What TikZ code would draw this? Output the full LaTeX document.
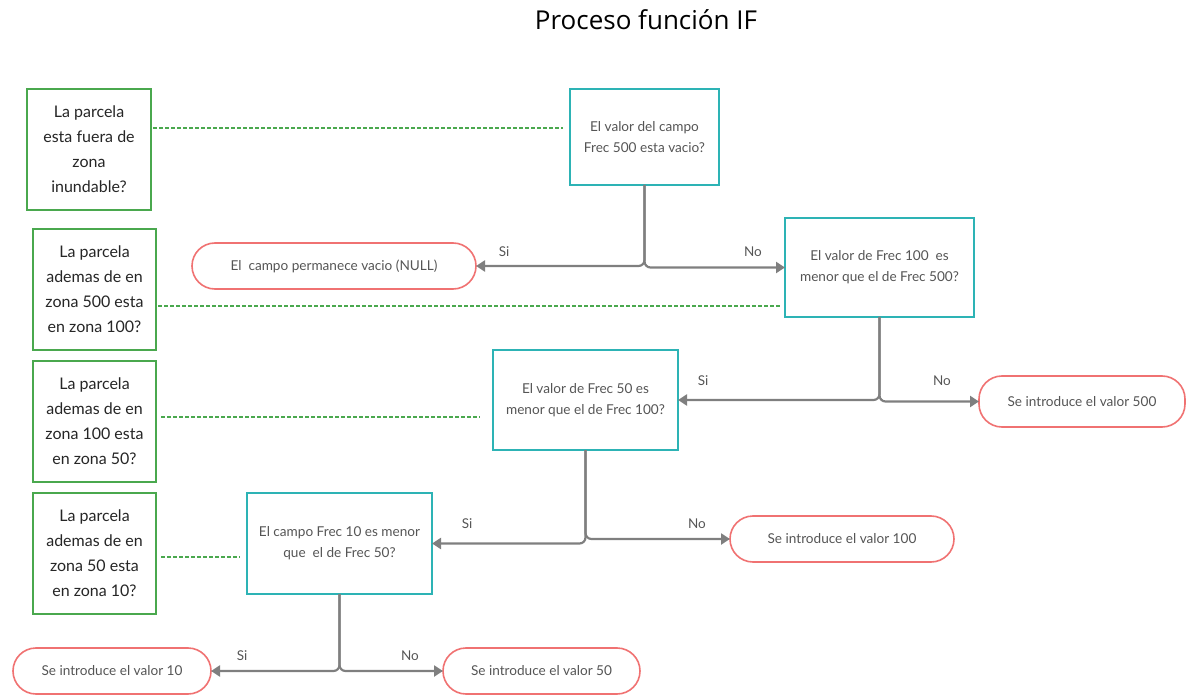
\documentclass[tikz,border=0pt]{standalone}
\usepackage{fontspec}
\setmainfont{Lato}
\newfontfamily\titlefont{Open Sans}
\usetikzlibrary{arrows.meta}
\definecolor{gboxc}{HTML}{4AA84E}
\definecolor{tealc}{HTML}{2DB3B5}
\definecolor{redc}{HTML}{F07272}
\definecolor{connc}{HTML}{7F7F7F}
\definecolor{txtc}{HTML}{555555}
\begin{document}
\begin{tikzpicture}[x=1pt,y=-1pt,
  gbox/.style={draw=gboxc, line width=1.6pt, fill=white, align=center, inner sep=0pt, outer sep=0pt,
    font=\fontsize{16}{25}\selectfont, text=black!85},
  tbox/.style={draw=tealc, line width=1.6pt, fill=white, align=center, inner sep=0pt, outer sep=0pt,
    font=\fontsize{13.6}{21}\selectfont, text=txtc},
  rbox/.style={draw=redc, line width=1.6pt, fill=white, align=center, inner sep=0pt, outer sep=0pt,
    rounded corners=23pt, font=\fontsize{13.6}{16}\selectfont, text=txtc},
  conn/.style={draw=connc, line width=2.2pt, rounded corners=6pt, -{Triangle[length=9pt,width=11pt]}},
  dline/.style={draw=gboxc, line width=1.4pt, dash pattern=on 4pt off 2pt},
  lbl/.style={font=\fontsize{13.5}{16}\selectfont, text=txtc}
]
\useasboundingbox (0,0) rectangle (1187,695);
\node[font=\titlefont\fontsize{26}{30}\selectfont] (title) at (646,20) {Proceso función IF};

% green question boxes
\node[gbox, minimum width=124pt, minimum height=121pt] (g1) at (89,149.5) {La parcela\\esta fuera de\\zona\\inundable?};
\node[gbox, minimum width=123pt, minimum height=121pt] (g2) at (94.5,289.5) {La parcela\\ademas de en\\zona 500 esta\\en zona 100?};
\node[gbox, minimum width=123pt, minimum height=121pt] (g3) at (94.5,421.5) {La parcela\\ademas de en\\zona 100 esta\\en zona 50?};
\node[gbox, minimum width=123pt, minimum height=121pt] (g4) at (94.5,553.5) {La parcela\\ademas de en\\zona 50 esta\\en zona 10?};

% teal decision boxes
\node[tbox, minimum width=149pt, minimum height=96pt] (A) at (644.5,137) {El valor del campo\\Frec 500 esta vacio?};
\node[tbox, minimum width=189pt, minimum height=99pt] (B) at (879.5,267.5) {El valor de Frec 100\ \ es\\menor que el de Frec 500?};
\node[tbox, minimum width=185pt, minimum height=100pt] (C) at (585.5,400) {El valor de Frec 50 es\\menor que el de Frec 100?};
\node[tbox, minimum width=185pt, minimum height=101pt] (D) at (339.5,543.5) {El campo Frec 10 es menor\\que\ \ el de Frec 50?};

% red result boxes
\node[rbox, minimum width=284pt, minimum height=46pt] (R1) at (334,266) {El\ \ campo permanece vacio (NULL)};
\node[rbox, minimum width=206pt, minimum height=51pt] (R2) at (1082,401.5) {Se introduce el valor 500};
\node[rbox, minimum width=224pt, minimum height=46pt] (R3) at (842,539) {Se introduce el valor 100};
\node[rbox, minimum width=198pt, minimum height=46pt] (R4) at (112,671) {Se introduce el valor 10};
\node[rbox, minimum width=197pt, minimum height=46pt] (R5) at (541.5,671) {Se introduce el valor 50};

% connectors
\draw[conn] (A.south) |- (R1.east);
\draw[conn] (A.south) |- (B.west);
\draw[conn] (B.south) |- (C.east);
\draw[conn] (B.south) |- (R2.west);
\draw[conn] (C.south) |- (D.east);
\draw[conn] (C.south) |- (R3.west);
\draw[conn] (D.south) |- (R4.east);
\draw[conn] (D.south) |- (R5.west);

% labels
\node[lbl] (l1) at (504,252) {Si};
\node[lbl] (l2) at (753,252) {No};
\node[lbl] (l3) at (703,381) {Si};
\node[lbl] (l4) at (942,381) {No};
\node[lbl] (l5) at (467,524) {Si};
\node[lbl] (l6) at (697,524) {No};
\node[lbl] (l7) at (242,656) {Si};
\node[lbl] (l8) at (410,656) {No};

% dashed links
\coordinate (d1a) at (153,128);
\coordinate (d1b) at (563,128);
\coordinate (d2a) at (158,306);
\coordinate (d2b) at (780,306);
\coordinate (d3a) at (161,417);
\coordinate (d3b) at (480,417);
\coordinate (d4a) at (161,557);
\coordinate (d4b) at (240,557);
\draw[dline] (d1a) -- (d1b);
\draw[dline] (d2a) -- (d2b);
\draw[dline] (d3a) -- (d3b);
\draw[dline] (d4a) -- (d4b);
\end{tikzpicture}
\end{document}
